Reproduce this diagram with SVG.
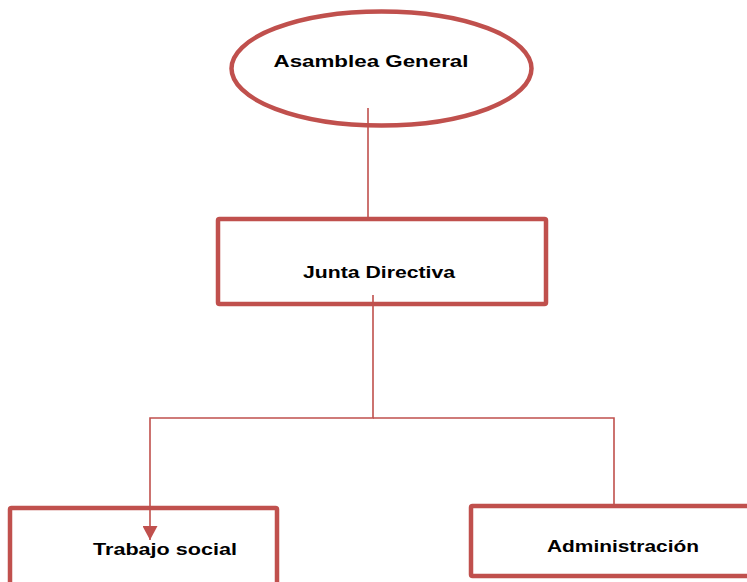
<svg xmlns="http://www.w3.org/2000/svg" width="747" height="582" viewBox="0 0 747 582">
<style>
.node{fill:#fff;stroke:#C0504D;stroke-width:4.5;stroke-linejoin:round}
.lbl{font-family:"Liberation Sans",Arial,sans-serif;font-weight:bold;font-size:17px;fill:#000;text-anchor:middle}
.conn{fill:none;stroke:#C0504D;stroke-width:1.6}
</style>
<defs>
<marker id="arr" markerWidth="16" markerHeight="15" refX="15" refY="8" orient="auto" markerUnits="userSpaceOnUse" viewBox="0 0 16 16">
<path d="M0,0 L15,8 L0,16 Z" fill="#C0504D"/>
</marker>
</defs>
<rect width="747" height="582" fill="#fff"/>
<g id="asamblea">
<ellipse class="node" cx="381.5" cy="68.5" rx="150" ry="57"/>
<text class="lbl" x="371" y="67" textLength="195" lengthAdjust="spacingAndGlyphs">Asamblea General</text>
</g>
<g id="junta">
<rect class="node" x="218" y="219" width="328" height="85" rx="1.5"/>
<text class="lbl" x="379" y="278" textLength="152" lengthAdjust="spacingAndGlyphs">Junta Directiva</text>
</g>
<g id="trabajo">
<rect class="node" x="10" y="508" width="267" height="90" rx="1.5"/>
<text class="lbl" x="165" y="555" textLength="144" lengthAdjust="spacingAndGlyphs">Trabajo social</text>
</g>
<g id="administracion">
<rect class="node" x="471" y="506" width="300" height="70" rx="1.5"/>
<text class="lbl" x="623" y="552" textLength="152" lengthAdjust="spacingAndGlyphs">Administración</text>
</g>
<g id="connectors">
<line class="conn" x1="368" y1="108" x2="368" y2="217"/>
<polyline class="conn" points="373,295 373,418 150,418 150,540" marker-end="url(#arr)"/>
<polyline class="conn" points="373,418 614,418 614,505"/>
</g>
</svg>
